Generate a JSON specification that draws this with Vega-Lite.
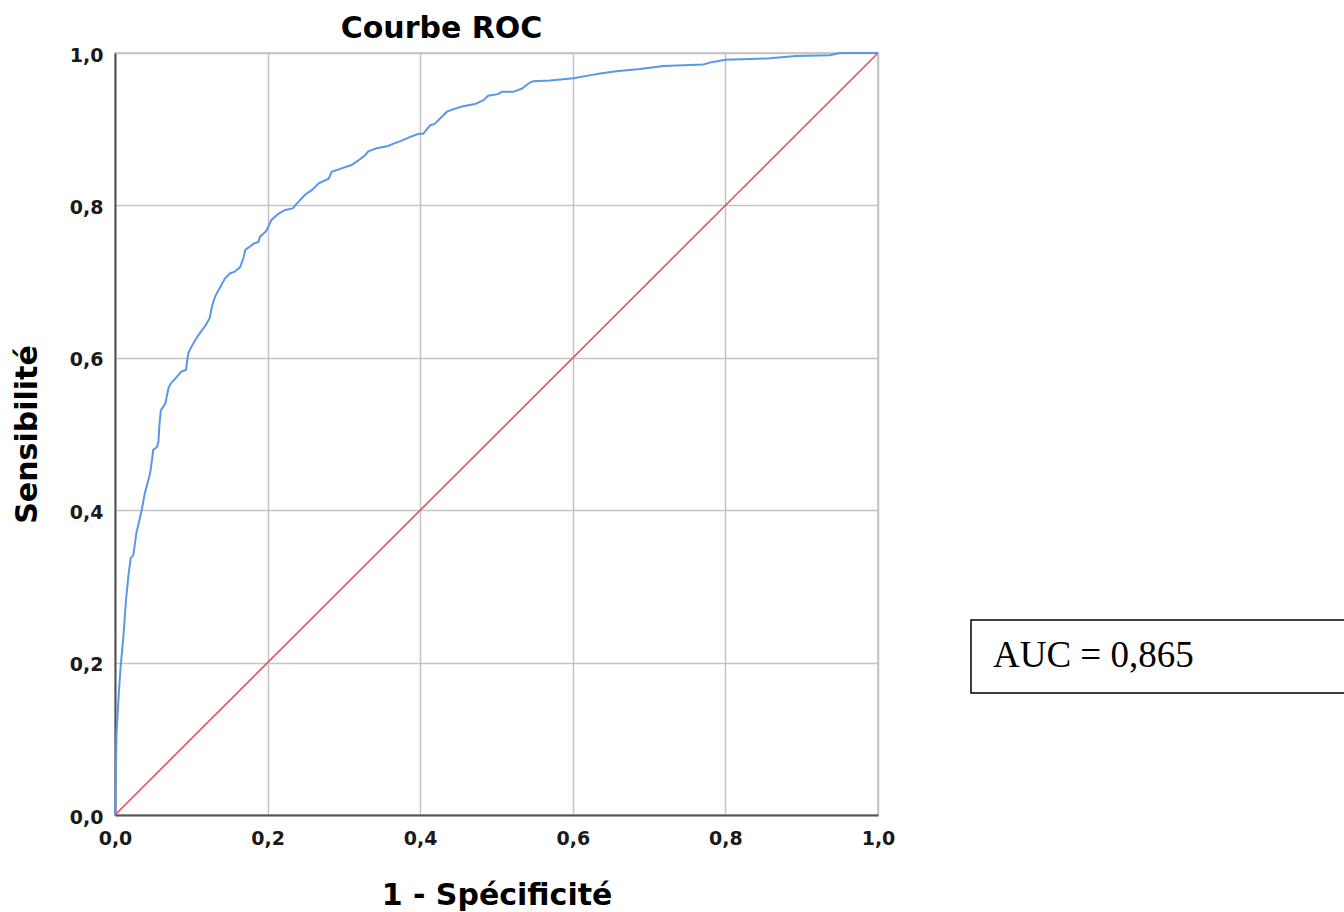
{
  "$schema": "https://vega.github.io/schema/vega-lite/v6.json",
  "width": 763,
  "height": 762,
  "autosize": {"type": "none"},
  "padding": {"left": 115, "top": 53, "right": 466, "bottom": 97},
  "background": "white",
  "config": {
    "view": {"stroke": "#bdbdbd", "strokeWidth": 1.5},
    "font": "DejaVu Sans"
  },
  "title": {
    "text": "Courbe ROC",
    "font": "DejaVu Sans",
    "fontSize": 30,
    "fontWeight": "bold",
    "color": "#000000",
    "anchor": "middle",
    "dx": -55,
    "offset": 2
  },
  "datasets": {
    "roc": [
      {"fpr": 0.0, "tpr": 0.0},
      {"fpr": 0.001, "tpr": 0.05},
      {"fpr": 0.002, "tpr": 0.108},
      {"fpr": 0.005, "tpr": 0.16},
      {"fpr": 0.0074, "tpr": 0.195},
      {"fpr": 0.011, "tpr": 0.234},
      {"fpr": 0.0144, "tpr": 0.282},
      {"fpr": 0.0175, "tpr": 0.313},
      {"fpr": 0.0205, "tpr": 0.337},
      {"fpr": 0.024, "tpr": 0.341},
      {"fpr": 0.028, "tpr": 0.37},
      {"fpr": 0.035, "tpr": 0.4},
      {"fpr": 0.039, "tpr": 0.422},
      {"fpr": 0.046, "tpr": 0.448},
      {"fpr": 0.049, "tpr": 0.47},
      {"fpr": 0.05, "tpr": 0.479},
      {"fpr": 0.055, "tpr": 0.483},
      {"fpr": 0.057, "tpr": 0.49},
      {"fpr": 0.058, "tpr": 0.509},
      {"fpr": 0.06, "tpr": 0.531},
      {"fpr": 0.066, "tpr": 0.54},
      {"fpr": 0.07, "tpr": 0.56},
      {"fpr": 0.073, "tpr": 0.566},
      {"fpr": 0.081, "tpr": 0.575},
      {"fpr": 0.087, "tpr": 0.582},
      {"fpr": 0.093, "tpr": 0.584},
      {"fpr": 0.096, "tpr": 0.606},
      {"fpr": 0.1, "tpr": 0.614},
      {"fpr": 0.105, "tpr": 0.623},
      {"fpr": 0.111, "tpr": 0.632},
      {"fpr": 0.119, "tpr": 0.643},
      {"fpr": 0.124, "tpr": 0.652},
      {"fpr": 0.127, "tpr": 0.667},
      {"fpr": 0.131, "tpr": 0.68},
      {"fpr": 0.138, "tpr": 0.693},
      {"fpr": 0.144, "tpr": 0.704},
      {"fpr": 0.151, "tpr": 0.711},
      {"fpr": 0.157, "tpr": 0.713},
      {"fpr": 0.164, "tpr": 0.719},
      {"fpr": 0.168, "tpr": 0.73},
      {"fpr": 0.171, "tpr": 0.742},
      {"fpr": 0.177, "tpr": 0.746},
      {"fpr": 0.182, "tpr": 0.75},
      {"fpr": 0.188, "tpr": 0.752},
      {"fpr": 0.19, "tpr": 0.759},
      {"fpr": 0.197, "tpr": 0.765},
      {"fpr": 0.2, "tpr": 0.77},
      {"fpr": 0.205, "tpr": 0.781},
      {"fpr": 0.214, "tpr": 0.789},
      {"fpr": 0.223, "tpr": 0.794},
      {"fpr": 0.233, "tpr": 0.796},
      {"fpr": 0.238, "tpr": 0.802},
      {"fpr": 0.249, "tpr": 0.814},
      {"fpr": 0.258, "tpr": 0.82},
      {"fpr": 0.267, "tpr": 0.829},
      {"fpr": 0.28, "tpr": 0.835},
      {"fpr": 0.284, "tpr": 0.844},
      {"fpr": 0.295, "tpr": 0.848},
      {"fpr": 0.31, "tpr": 0.853},
      {"fpr": 0.319, "tpr": 0.859},
      {"fpr": 0.328, "tpr": 0.866},
      {"fpr": 0.332, "tpr": 0.871},
      {"fpr": 0.343, "tpr": 0.875},
      {"fpr": 0.358, "tpr": 0.878},
      {"fpr": 0.365, "tpr": 0.881},
      {"fpr": 0.376, "tpr": 0.885},
      {"fpr": 0.387, "tpr": 0.89},
      {"fpr": 0.398, "tpr": 0.894},
      {"fpr": 0.404, "tpr": 0.894},
      {"fpr": 0.413, "tpr": 0.905},
      {"fpr": 0.419, "tpr": 0.907},
      {"fpr": 0.428, "tpr": 0.916},
      {"fpr": 0.435, "tpr": 0.923},
      {"fpr": 0.443, "tpr": 0.926},
      {"fpr": 0.456, "tpr": 0.93},
      {"fpr": 0.472, "tpr": 0.933},
      {"fpr": 0.483, "tpr": 0.938},
      {"fpr": 0.489, "tpr": 0.944},
      {"fpr": 0.502, "tpr": 0.946},
      {"fpr": 0.507, "tpr": 0.949},
      {"fpr": 0.522, "tpr": 0.949},
      {"fpr": 0.533, "tpr": 0.953},
      {"fpr": 0.542, "tpr": 0.96},
      {"fpr": 0.548, "tpr": 0.963},
      {"fpr": 0.57, "tpr": 0.964},
      {"fpr": 0.601, "tpr": 0.967},
      {"fpr": 0.618, "tpr": 0.97},
      {"fpr": 0.636, "tpr": 0.973},
      {"fpr": 0.657, "tpr": 0.976},
      {"fpr": 0.688, "tpr": 0.979},
      {"fpr": 0.719, "tpr": 0.983},
      {"fpr": 0.771, "tpr": 0.985},
      {"fpr": 0.782, "tpr": 0.988},
      {"fpr": 0.8, "tpr": 0.991},
      {"fpr": 0.832, "tpr": 0.992},
      {"fpr": 0.858, "tpr": 0.993},
      {"fpr": 0.893, "tpr": 0.996},
      {"fpr": 0.937, "tpr": 0.997},
      {"fpr": 0.95, "tpr": 1.0},
      {"fpr": 1.0, "tpr": 1.0}
    ],
    "diag": [
      {"fpr": 0.0, "tpr": 0.0},
      {"fpr": 1.0, "tpr": 1.0}
    ],
    "auc": [
      {"label": "AUC = 0,865"}
    ]
  },
  "layer": [
    {
      "data": {"name": "diag"},
      "mark": {"type": "line", "color": "#e2535c", "strokeWidth": 1.6},
      "encoding": {
        "x": {
          "field": "fpr",
          "type": "quantitative",
          "scale": {"domain": [0, 1], "nice": false, "zero": false},
          "axis": {
            "title": "1 - Spécificité",
            "values": [0, 0.2, 0.4, 0.6, 0.8, 1.0],
            "labelExpr": "replace(format(datum.value, '.1f'), '.', ',')",
            "labelFont": "DejaVu Sans",
            "labelFontSize": 19,
            "labelFontWeight": "bold",
            "labelColor": "#1a1a1a",
            "labelPadding": 14,
            "labelFlush": false,
            "ticks": false,
            "domainColor": "#555555",
            "domainWidth": 2,
            "gridColor": "#c4c4c4",
            "gridWidth": 1.5,
            "titleFont": "DejaVu Sans",
            "titleFontSize": 30,
            "titleFontWeight": "bold",
            "titleColor": "#000000",
            "titlePadding": 32
          }
        },
        "y": {
          "field": "tpr",
          "type": "quantitative",
          "scale": {"domain": [0, 1], "nice": false, "zero": false},
          "axis": {
            "title": "Sensibilité",
            "values": [0, 0.2, 0.4, 0.6, 0.8, 1.0],
            "labelExpr": "replace(format(datum.value, '.1f'), '.', ',')",
            "labelFont": "DejaVu Sans",
            "labelFontSize": 19,
            "labelFontWeight": "bold",
            "labelColor": "#1a1a1a",
            "labelPadding": 12,
            "labelFlush": false,
            "labelOffset": 2,
            "ticks": false,
            "domainColor": "#555555",
            "domainWidth": 2,
            "gridColor": "#c4c4c4",
            "gridWidth": 1.5,
            "titleFont": "DejaVu Sans",
            "titleFontSize": 30,
            "titleFontWeight": "bold",
            "titleColor": "#000000",
            "titlePadding": 27
          }
        }
      }
    },
    {
      "data": {"name": "roc"},
      "mark": {"type": "line", "color": "#5b97e8", "strokeWidth": 2},
      "encoding": {
        "x": {"field": "fpr", "type": "quantitative"},
        "y": {"field": "tpr", "type": "quantitative"}
      }
    },
    {
      "data": {"name": "auc"},
      "mark": {"type": "rect", "fill": "white", "stroke": "#000000", "strokeWidth": 1.5, "clip": false},
      "encoding": {
        "x": {"datum": 1.1219, "type": "quantitative"},
        "x2": {"datum": 1.7},
        "y": {"datum": 0.2559, "type": "quantitative"},
        "y2": {"datum": 0.1601}
      }
    },
    {
      "data": {"name": "auc"},
      "mark": {"type": "text", "font": "Liberation Serif", "fontSize": 37, "align": "left", "baseline": "alphabetic", "color": "#000000", "clip": false},
      "encoding": {
        "x": {"datum": 1.1507, "type": "quantitative"},
        "y": {"datum": 0.1942, "type": "quantitative"},
        "text": {"field": "label"}
      }
    }
  ]
}
